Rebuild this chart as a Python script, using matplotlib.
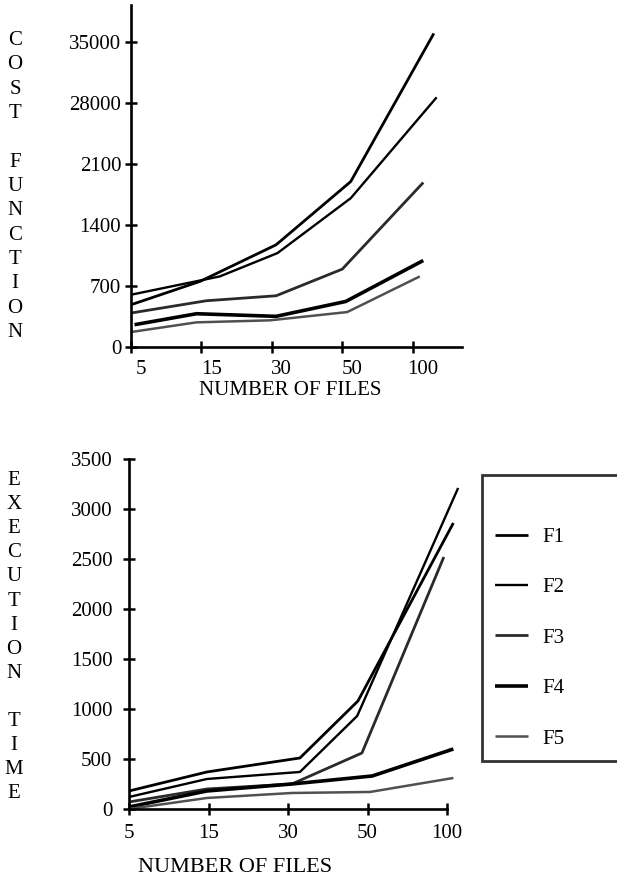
import numpy as np
import matplotlib
matplotlib.use("Agg")
import matplotlib.pyplot as plt
from matplotlib.transforms import ScaledTranslation

plt.rcParams['font.family'] = ['Liberation Serif', 'DejaVu Serif']

# x categories (number of files), plotted at evenly spaced positions
file_labels = ['5', '15', '30', '50', '100']
series_names = ['F1', 'F2', 'F3', 'F4', 'F5']

# cost function (x in category units)
cost_x_f1 = [0, 0.98, 2.06, 3.12, 4.30]
cost_f1 = [485, 753, 1173, 1899, 3599]
cost_x_f2 = [0, 1.26, 2.08, 3.12, 4.34]
cost_f2 = [600, 810, 1078, 1708, 2866]
cost_x_f3 = [0, 1.07, 2.06, 3.00, 4.15]
cost_f3 = [390, 531, 588, 894, 1888]
cost_x_f4 = [0.05, 0.93, 2.06, 3.05, 4.15]
cost_f4 = [256, 382, 352, 523, 993]
cost_x_f5 = [0, 0.93, 1.97, 3.07, 4.10]
cost_f5 = [172, 283, 306, 401, 810]

cost_ticks = [0, 700, 1400, 2100, 2800, 3500]
cost_tick_labels = ['0', '700', '1400', '2100', '28000', '35000']

# execution time
exec_x_f1 = [0, 0.98, 2.15, 2.88, 4.08]
exec_f1 = [180, 370, 510, 1080, 2860]
exec_x_f2 = [0, 0.98, 2.15, 2.87, 4.14]
exec_f2 = [120, 300, 370, 930, 3210]
exec_x_f3 = [0, 0.98, 2.05, 2.93, 3.96]
exec_f3 = [70, 200, 250, 560, 2520]
exec_x_f4 = [0, 0.98, 2.05, 3.06, 4.08]
exec_f4 = [20, 180, 250, 330, 600]
exec_x_f5 = [0, 0.98, 2.05, 3.03, 4.08]
exec_f5 = [0, 110, 160, 170, 310]

exec_ticks = [0, 500, 1000, 1500, 2000, 2500, 3000, 3500]

styles = [dict(color='black', lw=2.0),
          dict(color='black', lw=1.7),
          dict(color='#2a2a2a', lw=2.0),
          dict(color='black', lw=2.6),
          dict(color='#505050', lw=1.8)]

fig = plt.figure(figsize=(6.17, 8.85), dpi=100)
ax1 = fig.add_axes([0.2123, 0.6079, 0.5365, 0.3864])
ax2 = fig.add_axes([0.2091, 0.0859, 0.5154, 0.3955])


def style_axis(ax):
    for s in ['top', 'right']:
        ax.spines[s].set_visible(False)
    for s in ['left', 'bottom']:
        ax.spines[s].set_linewidth(1.9)
    ax.tick_params(direction='inout', length=8, width=1.8, labelsize=15)


# top chart
cost_x = [cost_x_f1, cost_x_f2, cost_x_f3, cost_x_f4, cost_x_f5]
cost_y = [cost_f1, cost_f2, cost_f3, cost_f4, cost_f5]
for xs, ys, st, name in zip(cost_x, cost_y, styles, series_names):
    ax1.plot(xs, ys, label=name, solid_capstyle='butt', **st)
ax1.set_xlim(0, 4.7)
ax1.set_ylim(0, 3925)
ax1.set_xticks(range(len(file_labels)))
ax1.set_xticklabels(file_labels)
ax1.set_yticks(cost_ticks)
ax1.set_yticklabels(cost_tick_labels)
style_axis(ax1)
ax1.tick_params(axis='y', pad=3)
ax1.tick_params(axis='x', pad=5)
for lab in ax1.get_xticklabels():
    lab.set_transform(lab.get_transform() + ScaledTranslation(10 / 100, 0, fig.dpi_scale_trans))
ax1.set_xlabel('NUMBER OF FILES', fontsize=15)
ax1.xaxis.set_label_coords(0.48, -0.1)

# bottom chart
exec_x = [exec_x_f1, exec_x_f2, exec_x_f3, exec_x_f4, exec_x_f5]
exec_y = [exec_f1, exec_f2, exec_f3, exec_f4, exec_f5]
for xs, ys, st, name in zip(exec_x, exec_y, styles, series_names):
    ax2.plot(xs, ys, label=name, solid_capstyle='butt', clip_on=False, **st)
ax2.set_xlim(0, 4)
ax2.set_ylim(0, 3500)
ax2.set_xticks(range(len(file_labels)))
ax2.set_xticklabels(file_labels)
ax2.set_yticks(exec_ticks)
style_axis(ax2)
ax2.tick_params(axis='y', pad=8)
ax2.tick_params(axis='x', pad=7)
ax2.set_xlabel('NUMBER OF FILES', fontsize=16)
ax2.xaxis.set_label_coords(0.333, -0.14)

handles, labels = ax2.get_legend_handles_labels()
leg = fig.legend(handles, labels, loc='upper left',
                 bbox_to_anchor=(482 / 617, 1 - 475 / 885, 170 / 617, 0.0),
                 mode='expand', borderaxespad=0, fontsize=15, handlelength=1.6,
                 handletextpad=0.7, labelspacing=1.48, borderpad=0.6,
                 title=' ', title_fontsize=8, fancybox=False,
                 edgecolor='black', alignment='left')
leg.get_frame().set_linewidth(2.0)

# stacked vertical axis titles
fig.text(15 / 617, 1 - 31 / 885, '\n'.join('COST FUNCTION'), ha='center', va='top',
         fontsize=15, linespacing=1.38)
fig.text(14 / 617, 1 - 471 / 885, '\n'.join('EXECUTION TIME'), ha='center', va='top',
         fontsize=15, linespacing=1.365)

fig.savefig('out.png', dpi=100)
